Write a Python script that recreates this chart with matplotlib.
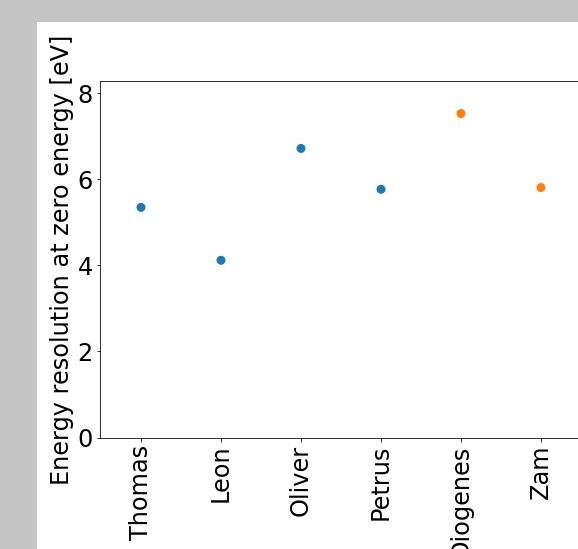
import matplotlib
matplotlib.use("Agg")
import matplotlib.pyplot as plt
from matplotlib.patches import Rectangle

names = ["Thomas", "Leon", "Oliver", "Petrus", "Diogenes", "Zam"]
resolution = [5.35, 4.12, 6.72, 5.77, 7.53, 5.81]
group = [0, 0, 0, 0, 1, 1]

dpi = 72
W, H = 578, 549
fig = plt.figure(figsize=(W / dpi, H / dpi), dpi=dpi, facecolor="#c4c5c4")

# white canvas area, offset from top-left
fig.patches.append(Rectangle((37 / W, 0), 1, (H - 22) / H, transform=fig.transFigure,
                             facecolor="white", edgecolor="none", zorder=-1))

left, bottom = 100, 437.5
ax_w, ax_h = 520, 437.5 - 81.3
ax = fig.add_axes([left / W, (H - bottom) / H, ax_w / W, ax_h / H])

colors = ["C0" if g == 0 else "C1" for g in group]
x = list(range(len(names)))
ax.scatter(x, resolution, c=colors, s=64, linewidths=1, zorder=3)

ax.set_xlim(-0.5125, -0.5125 + ax_w / 80)
ax.set_ylim(0, 8.28)
ax.set_yticks([0, 2, 4, 6, 8])
ax.set_xticks(x)
ax.set_xticklabels(names, rotation=90)
ax.tick_params(labelsize=24)
ax.set_ylabel("Energy resolution at zero energy [eV]", fontsize=24)
ax.spines["right"].set_visible(False)

fig.savefig("out.png", dpi=dpi, facecolor=fig.get_facecolor())
